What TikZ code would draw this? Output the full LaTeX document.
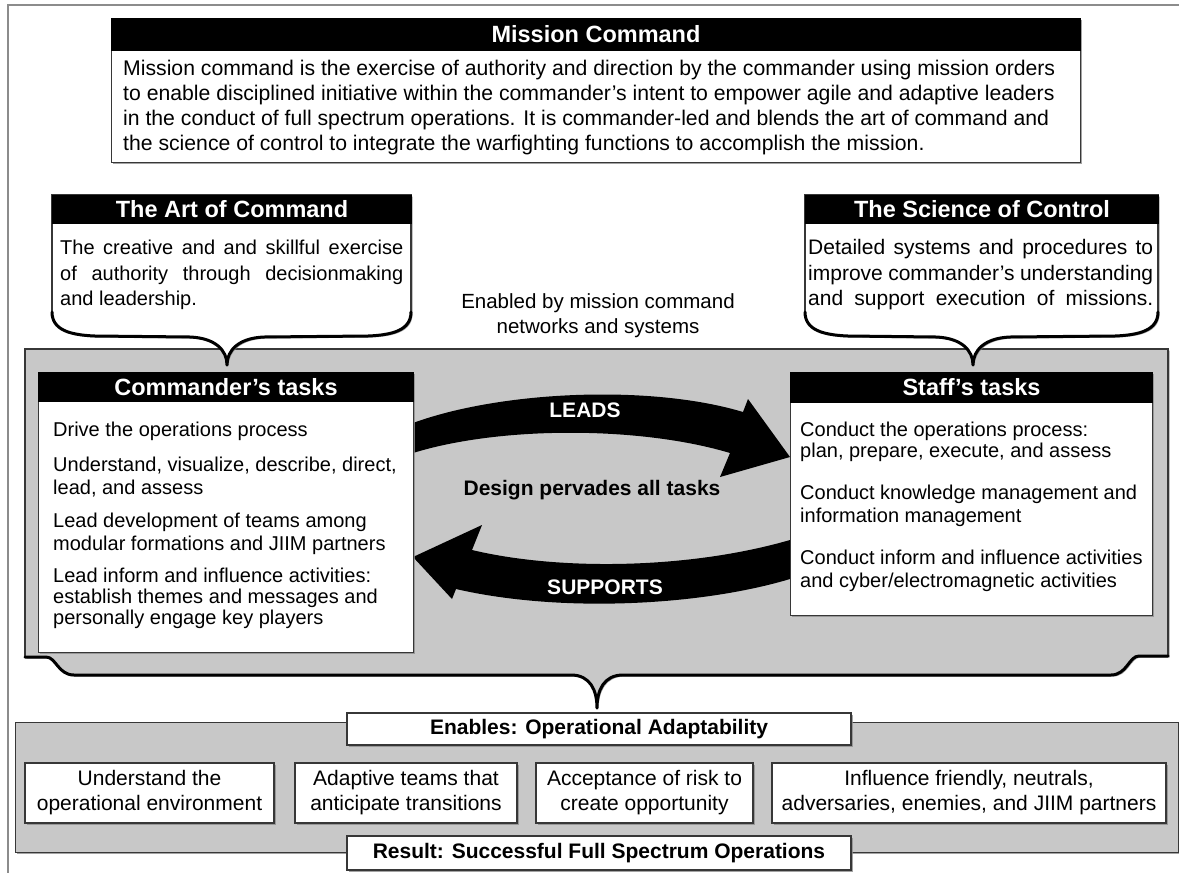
\documentclass[tikz,border=0pt]{standalone}
\usepackage{fontspec}
\setmainfont{Liberation Sans}
\usetikzlibrary{shadows}
\definecolor{panelgray}{RGB}{200,200,200}
\definecolor{edgecol}{RGB}{55,55,55}
\definecolor{framegray}{RGB}{140,140,140}
\newcommand\fBody{\fontsize{20}{23.5}\selectfont}
\newcommand\fSci{\fontsize{21}{25}\selectfont}
\newcommand\fMis{\fontsize{21.2}{25}\selectfont}
\newcommand\fBoxT{\fontsize{21}{25}\selectfont}
\newcommand\fHdr{\bfseries\fontsize{23.5}{28}\selectfont}
\newcommand\fBld{\bfseries\fontsize{21}{25}\selectfont}
\newcommand\tb[2]{\parbox[t]{#1}{\raggedright #2}}
\begin{document}
\begin{tikzpicture}[x=1pt,y=-1pt,
  shad/.style={drop shadow={shadow xshift=1.6pt, shadow yshift=-1.6pt, fill=black!45, opacity=0.8}},
  box/.style={draw=edgecol, line width=1.3pt, fill=white, inner sep=0pt, shad},
  graybox/.style={draw=edgecol, line width=1.3pt, fill=panelgray, inner sep=0pt, shad},
  hdr/.style={fill=black, draw=black, line width=1pt, text=white, font=\fHdr, inner sep=0pt, anchor=north west},
  txt/.style={inner sep=0pt, anchor=base west},
  bracestyle/.style={draw=black, line width=3pt, line cap=round, line join=round},
  thinedge/.style={draw=edgecol, line width=1.3pt},
]
\useasboundingbox (0,0) rectangle (1179,873);
\fill[white] (0,0) rectangle (1179,873);
% outer frame
\draw[framegray, line width=2pt] (8,873) -- (8,5) -- (1179,5);

% ---------------- Mission Command
\node[box, anchor=north west, minimum width=969pt, minimum height=144pt] (mc) at (111,18) {};
\node[hdr, minimum width=969pt, minimum height=32pt] (mch) at (111,18) {Mission Command};
\node[txt, font=\fMis] (mct) at (123,75) {\tb{955pt}{Mission command is the exercise of authority and direction by the commander using mission orders\\
to enable disciplined initiative within the commander’s intent to empower agile and adaptive leaders\\
in the conduct of full spectrum operations. It is commander-led and blends the art of command and\\
the science of control to integrate the warfighting functions to accomplish the mission.}};

% ---------------- middle gray panel with brace bottom
\path[fill=panelgray, shad] (25,349) -- (1168,349) -- (1168,656) -- (1139,656)
  .. controls (1129,656) and (1127,675) .. (1111,675) -- (623,675)
  .. controls (604,675) and (597,690) .. (597,708)
  .. controls (597,690) and (590,675) .. (571,675) -- (74,675)
  .. controls (58,675) and (56,657) .. (46,657) -- (25,657) -- cycle;
\draw[thinedge] (25,657) -- (25,349) -- (1168,349) -- (1168,656);
\draw[bracestyle] (25,657) -- (46,657) .. controls (56,657) and (58,675) .. (74,675) -- (571,675)
  .. controls (590,675) and (597,690) .. (597,708)
  .. controls (597,690) and (604,675) .. (623,675) -- (1111,675)
  .. controls (1127,675) and (1129,656) .. (1139,656) -- (1168,656);
\coordinate (midtip) at (597,708);

% ---------------- Art of Command callout
\coordinate (arttip) at (227,365);
\path[fill=white, shad] (52,195) -- (411,195) -- (411,312)
  .. controls (411,330) and (393,335) .. (368,336) -- (264,337)
  .. controls (239,338) and (227,350) .. (arttip)
  .. controls (227,350) and (215,338) .. (190,337) -- (95,336)
  .. controls (70,335) and (52,330) .. (52,312) -- cycle;
\draw[thinedge] (52,312) -- (52,195) -- (411,195) -- (411,312);
\draw[bracestyle] (52,312) .. controls (52,330) and (70,335) .. (95,336) -- (190,337)
  .. controls (215,338) and (227,350) .. (arttip)
  .. controls (227,350) and (239,338) .. (264,337) -- (368,336)
  .. controls (393,335) and (411,330) .. (411,312);
\node[hdr, minimum width=359pt, minimum height=28pt] (arth) at (52,195) {The Art of Command};
\node[txt, font=\fBody] (art1) at (60,254) {\makebox[343pt][s]{The creative and and skillful exercise}};
\node[txt, font=\fBody] (art2) at (60,280) {\makebox[343pt][s]{of authority through decisionmaking}};
\node[txt, font=\fBody] (art3) at (60,305) {and leadership.};

% ---------------- Science of Control callout
\coordinate (scitip) at (973,365);
\path[fill=white, shad] (805,195) -- (1158,195) -- (1158,312)
  .. controls (1158,330) and (1140,335) .. (1115,336) -- (1010,337)
  .. controls (985,338) and (973,350) .. (scitip)
  .. controls (973,350) and (961,338) .. (936,337) -- (848,336)
  .. controls (823,335) and (805,330) .. (805,312) -- cycle;
\draw[thinedge] (805,312) -- (805,195) -- (1158,195) -- (1158,312);
\draw[bracestyle] (805,312) .. controls (805,330) and (823,335) .. (848,336) -- (936,337)
  .. controls (961,338) and (973,350) .. (scitip)
  .. controls (973,350) and (985,338) .. (1010,337) -- (1115,336)
  .. controls (1140,335) and (1158,330) .. (1158,312);
\node[hdr, minimum width=353pt, minimum height=28pt] (scih) at (805,195) {The Science of Control};
\node[txt, font=\fSci] (sci1) at (808,254) {\makebox[345pt][s]{Detailed systems and procedures to}};
\node[txt, font=\fSci] (sci2) at (808,280) {\makebox[345pt][s]{improve commander’s understanding}};
\node[txt, font=\fSci] (sci3) at (808,305) {\makebox[345pt][s]{and support execution of missions.}};

% ---------------- enabled text
\node[align=center, font=\fontsize{20.5}{25}\selectfont, inner sep=0pt] (enab) at (598,316) {Enabled by mission command\\networks and systems};

% ---------------- arrows
\fill[black] (413,423) .. controls (500,391) and (650,384) .. (743,412) -- (748,399) -- (790,457)
  -- (720,477) -- (730,453) .. controls (640,426) and (500,426) .. (413,453) -- cycle;
\fill[black] (790,540) .. controls (690,569) and (560,571) .. (472,550) -- (482,525) -- (413,557)
  -- (452,599) -- (456,589) .. controls (560,613) and (700,606) .. (790,579) -- cycle;
\node[font=\fBld, text=white, inner sep=0pt] (leads) at (585,410) {LEADS};
\node[font=\fBld, text=white, inner sep=0pt] (supp) at (605,587) {SUPPORTS};
\node[font=\fBld, inner sep=0pt] (design) at (592,490) {Design pervades all tasks};

% ---------------- Commander's tasks
\node[box, anchor=north west, minimum width=375pt, minimum height=280pt] (cmd) at (38,372) {};
\node[hdr, minimum width=375pt, minimum height=29pt] (cmdh) at (38,372) {Commander’s tasks};
\node[txt, font=\fBody] (c1) at (53,436) {Drive the operations process};
\node[txt, font=\fBody] (c2) at (53,471) {\tb{360pt}{Understand, visualize, describe, direct,\\lead, and assess}};
\node[txt, font=\fBody] (c3) at (53,527) {\tb{360pt}{Lead development of teams among\\modular formations and JIIM partners}};
\node[txt, font=\fontsize{20}{21}\selectfont] (c4) at (53,582) {\tb{360pt}{Lead inform and influence activities:\\establish themes and messages and\\personally engage key players}};

% ---------------- Staff's tasks
\node[box, anchor=north west, minimum width=362pt, minimum height=243pt] (stf) at (790,372) {};
\node[hdr, minimum width=362pt, minimum height=30pt] (stfh) at (790,372) {Staff’s tasks};
\node[txt, font=\fontsize{20}{21}\selectfont] (s1) at (800,436) {\tb{350pt}{Conduct the operations process:\\plan, prepare, execute, and assess}};
\node[txt, font=\fontsize{20}{23}\selectfont] (s2) at (800,499) {\tb{350pt}{Conduct knowledge management and\\information management}};
\node[txt, font=\fontsize{20}{23}\selectfont] (s3) at (800,564) {\tb{350pt}{Conduct inform and influence activities\\and cyber/electromagnetic activities}};

% ---------------- bottom panel
\node[graybox, anchor=north west, minimum width=1163pt, minimum height=130pt] (bot) at (15,722) {};
\node[box, minimum width=504pt, minimum height=32pt, font=\fBld] (en) at (599,729) {Enables: Operational Adaptability};
\node[box, minimum width=504pt, minimum height=34pt, font=\fBld] (res) at (599,853) {Result: Successful Full Spectrum Operations};
\node[box, minimum width=249pt, minimum height=60pt, align=center, font=\fBoxT] (b1) at (149.5,793) {Understand the\\operational environment};
\node[box, minimum width=222pt, minimum height=60pt, align=center, font=\fBoxT] (b2) at (406,793) {Adaptive teams that\\anticipate transitions};
\node[box, minimum width=217pt, minimum height=60pt, align=center, font=\fBoxT] (b3) at (644.5,793) {Acceptance of risk to\\create opportunity};
\node[box, minimum width=394pt, minimum height=60pt, align=center, font=\fBoxT] (b4) at (969,793) {Influence friendly, neutrals,\\adversaries, enemies, and JIIM partners};
\end{tikzpicture}
\end{document}
